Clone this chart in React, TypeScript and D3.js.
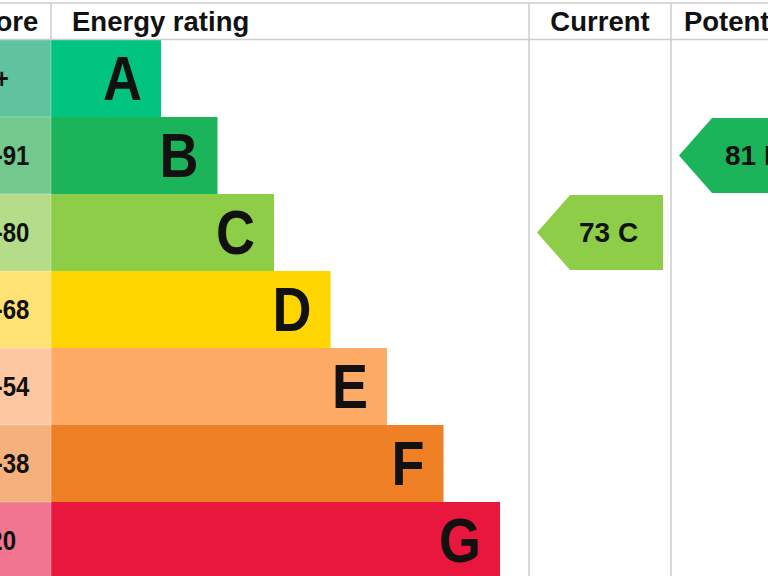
import React from "react";
import * as d3 from "d3";

const letters = ["A", "B", "C", "D", "E", "F", "G"];
const scoreRanges = ["92+", "81-91", "69-80", "55-68", "39-54", "21-38", "1-20"];
const bandColors = ["#00c47f", "#1bb45b", "#8dcd47", "#ffd500", "#fcaa65", "#ef8025", "#e9163d"];
const tintColors = ["#60c3a0", "#73c98d", "#b4dc89", "#ffe273", "#fdc8a1", "#f6b07b", "#f27590"];
const headers = ["Score", "Energy rating", "Current", "Potential"];
const currentScore = 73;
const currentBand = "C";
const potentialScore = 81;
const potentialBand = "B";

const W = 768;
const H = 576;
const FONT = "'Liberation Sans', Arial, sans-serif";

const cols = {
  score: [-51, 51],
  rating: [51, 529],
  current: [529, 671],
  potential: [671, 813],
};

export default function App() {
  const y = d3.scaleBand<string>().domain(letters).range([40, 579]).paddingInner(0);
  const barEnd = d3.scaleLinear().domain([0, letters.length - 1]).range([161, 500]);
  const bh = y.bandwidth();

  const arrows = [
    { col: cols.current, score: currentScore, band: currentBand, textInset: 42 },
    { col: cols.potential, score: potentialScore, band: potentialBand, textInset: 46 },
  ];

  const gridColor = "#cdcdcd";

  return (
    <svg
      width={W}
      height={H}
      style={{ position: "absolute", left: 0, top: 0, background: "#fff" }}
      fontFamily={FONT}
    >
      <rect x={0} y={0} width={W} height={H} fill="#fff" />
      {letters.map((l, i) => {
        const y0 = y(l)!;
        const cy = y0 + bh / 2;
        const xe = barEnd(i);
        return (
          <g key={l}>
            <rect x={cols.score[0]} y={y0} width={cols.score[1] - cols.score[0]} height={bh} fill={tintColors[i]} />
            <rect x={cols.rating[0]} y={y0} width={xe - cols.rating[0]} height={bh} fill={bandColors[i]} />
            <text
              x={-32}
              y={cy}
              fontSize={24}
              fontWeight="bold"
              fill="#111"
              dominantBaseline="central"
              transform={`translate(0 ${cy}) scale(1 1.15) translate(0 ${-cy})`}
            >
              {scoreRanges[i]}
            </text>
            <text
              x={xe - 19}
              y={cy}
              fontSize={54}
              fontWeight="bold"
              fill="#111"
              textAnchor="end"
              dominantBaseline="central"
              transform={`translate(0 ${cy}) scale(1 1.18) translate(0 ${-cy})`}
            >
              {l}
            </text>
          </g>
        );
      })}
      {letters.slice(1).map((l) => (
        <line key={"s" + l} x1={cols.score[0]} x2={cols.score[1]} y1={y(l)!} y2={y(l)!} stroke="#fff" strokeOpacity={0.3} />
      ))}
      <line x1={51} x2={51} y1={40} y2={H} stroke="#fff" strokeOpacity={0.3} />

      {arrows.map((a, k) => {
        const y0 = y(a.band)! + 1;
        const y1 = y(a.band)! + bh - 1;
        const tip = a.col[0] + 8;
        const right = tip + 126;
        const notch = tip + 33;
        const cy = (y0 + y1) / 2;
        const idx = letters.indexOf(a.band);
        const path = d3.path();
        path.moveTo(tip, cy);
        path.lineTo(notch, y0);
        path.lineTo(right, y0);
        path.lineTo(right, y1);
        path.lineTo(notch, y1);
        path.closePath();
        return (
          <g key={k}>
            <path d={path.toString()} fill={bandColors[idx]} />
            <text
              x={tip + a.textInset}
              y={cy}
              fontSize={28}
              fontWeight="bold"
              fill="#111"
              dominantBaseline="central"
              style={{ whiteSpace: "pre" }}
            >
              {`${a.score} ${a.band}`}
            </text>
          </g>
        );
      })}

      <line x1={0} x2={W} y1={3} y2={3} stroke={gridColor} strokeWidth={1.5} />
      <line x1={0} x2={W} y1={39.5} y2={39.5} stroke={gridColor} strokeWidth={1.5} />
      <line x1={51} x2={51} y1={3} y2={40} stroke={gridColor} strokeWidth={1.5} />
      <line x1={529} x2={529} y1={3} y2={H} stroke={gridColor} strokeWidth={1.5} />
      <line x1={671} x2={671} y1={3} y2={H} stroke={gridColor} strokeWidth={1.5} />

      <text x={(cols.score[0] + cols.score[1]) / 2} y={31} fontSize={27.5} fontWeight="bold" fill="#111" textAnchor="middle">
        {headers[0]}
      </text>
      <text x={cols.rating[0] + 21} y={31} fontSize={27.5} fontWeight="bold" fill="#111">
        {headers[1]}
      </text>
      <text x={(cols.current[0] + cols.current[1]) / 2} y={31} fontSize={27.5} fontWeight="bold" fill="#111" textAnchor="middle">
        {headers[2]}
      </text>
      <text x={(cols.potential[0] + cols.potential[1]) / 2} y={31} fontSize={27.5} fontWeight="bold" fill="#111" textAnchor="middle">
        {headers[3]}
      </text>
    </svg>
  );
}
